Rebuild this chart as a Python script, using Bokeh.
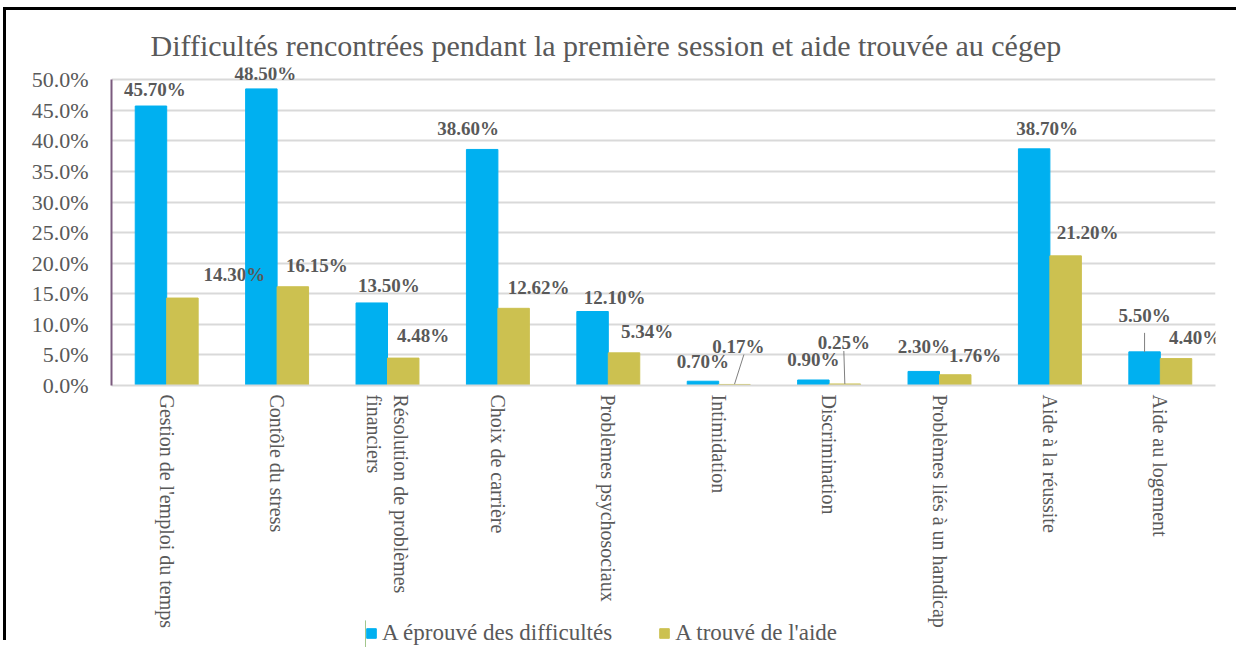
import math
from bokeh.plotting import figure
from bokeh.layouts import column
from bokeh.models import ColumnDataSource, Range1d, FixedTicker, PrintfTickFormatter, Legend, LegendItem
from bokeh.core.properties import value
from bokeh.embed import file_html
from bokeh.resources import INLINE

# ---- data ----
CATEGORIES = [
    "Gestion de l'emploi du temps",
    "Contôle du stress",
    "Résolution de problèmes\n          financiers",
    "Choix de carrière",
    "Problèmes psychosociaux",
    "Intimidation",
    "Discrimination",
    "Problèmes liés à un handicap",
    "Aide à la réussite",
    "Aide au logement",
]
DIFFICULTES = [45.70, 48.50, 13.50, 38.60, 12.10, 0.70, 0.90, 2.30, 38.70, 5.50]
AIDE = [14.30, 16.15, 4.48, 12.62, 5.34, 0.17, 0.25, 1.76, 21.20, 4.40]
DIFF_LABELS = ["45.70%", "48.50%", "13.50%", "38.60%", "12.10%", "0.70%", "0.90%", "2.30%", "38.70%", "5.50%"]
AIDE_LABELS = ["14.30%", "16.15%", "4.48%", "12.62%", "5.34%", "0.17%", "0.25%", "1.76%", "21.20%", "4.40%"]
SERIES = ["A éprouvé des difficultés", "A trouvé de l'aide"]
TITLE = "Difficultés rencontrées pendant la première session et aide trouvée au cégep"
Y_TICKS = [0, 5, 10, 15, 20, 25, 30, 35, 40, 45, 50]

# ---- label placement (screen pixels, style only) ----
DIFF_DX = [4, 4, 17, -14, 22, 0, 0, 0, 13, 0]
DIFF_DY = [17, 15, 17, 21, 14, 20, 20, 25, 20, 36]
AIDE_DX = [52, 24, 20, 25, 23, 4, -1, 20, 22, 19]
AIDE_DY = [24, 21, 23, 21, 21, 38, 41, 19, 23, 21]

BLUE = "#00B0F0"
GOLD = "#CCC150"
TXT = "#595959"
FONT = "Liberation Serif"
BW = 0.285
Y_MAX = 52

xs = [i + 0.5 for i in range(len(CATEGORIES))]
x_blue = [x - BW / 2 for x in xs]
x_gold = [x + BW / 2 for x in xs]

p = figure(width=1233, height=633, output_backend="svg", toolbar_location=None,
           x_range=Range1d(0, len(CATEGORIES)), y_range=Range1d(0, Y_MAX),
           min_border_left=105, min_border_right=24, min_border_top=57, min_border_bottom=258,
           background_fill_color="white", border_fill_color="white")
p.outline_line_color = None
p.styles = {"border-top": "3px solid black", "border-left": "3px solid black",
            "margin-top": "7px", "margin-left": "3px"}

p.title.text = TITLE
p.title.text_font = FONT
p.title.text_font_size = "30px"
p.title.text_font_style = "normal"
p.title.text_color = TXT
p.title.align = "left"
p.title.offset = 39
p.title.standoff = 12

r1 = p.vbar(x=x_blue, top=DIFFICULTES, width=BW, fill_color=BLUE, line_color=BLUE)
r2 = p.vbar(x=x_gold, top=AIDE, width=BW, fill_color=GOLD, line_color=GOLD)

# leader lines (label -> bar) for small labels
px_per_unit = 318 / Y_MAX
px_per_cat = 1104 / len(CATEGORIES)
for i in [5, 6]:
    y_top = AIDE[i] + (AIDE_DY[i] - 8) / px_per_unit
    x_lab = x_gold[i] + AIDE_DX[i] / px_per_cat + (0.05 if i == 5 else 0)
    p.segment(x0=[x_lab], y0=[y_top], x1=[x_gold[i]], y1=[AIDE[i]], line_color="#7f7f7f", line_width=1)
for i in [9]:
    y_top = DIFFICULTES[i] + (DIFF_DY[i] - 17) / px_per_unit
    p.segment(x0=[x_blue[i]], y0=[y_top], x1=[x_blue[i]], y1=[DIFFICULTES[i]], line_color="#7f7f7f", line_width=1)

src_d = ColumnDataSource(dict(x=x_blue, y=DIFFICULTES, t=DIFF_LABELS, dx=DIFF_DX, dy=[-d for d in DIFF_DY]))
src_a = ColumnDataSource(dict(x=x_gold, y=AIDE, t=AIDE_LABELS, dx=AIDE_DX, dy=[-d for d in AIDE_DY]))
for s in (src_d, src_a):
    p.text(x="x", y="y", text="t", x_offset="dx", y_offset="dy", source=s,
           text_font=value(FONT), text_font_size="19px", text_font_style="bold",
           text_color=TXT, text_align="center", text_baseline="middle")

# axes
p.yaxis.ticker = FixedTicker(ticks=Y_TICKS)
p.yaxis.formatter = PrintfTickFormatter(format="%.1f%%")
p.yaxis.bounds = (0, 50)
p.yaxis.major_label_text_font = FONT
p.yaxis.major_label_text_font_size = "22px"
p.yaxis.major_label_text_color = TXT
p.yaxis.major_tick_line_color = None
p.yaxis.minor_tick_line_color = None
p.yaxis.axis_line_color = "#7B5A7E"
p.yaxis.axis_line_width = 2
p.yaxis.major_label_standoff = 17

p.xaxis.ticker = FixedTicker(ticks=xs)
p.xaxis.major_label_overrides = {x: c for x, c in zip(xs, CATEGORIES)}
p.xaxis.major_label_orientation = -math.pi / 2
p.xaxis.major_label_text_font = FONT
p.xaxis.major_label_text_font_size = "20px"
p.xaxis.major_label_text_color = TXT
p.xaxis.major_tick_line_color = None
p.xaxis.minor_tick_line_color = None
p.xaxis.axis_line_color = "#D9D9D9"
p.xaxis.axis_line_width = 2
p.xaxis.major_label_standoff = 3

p.xgrid.grid_line_color = None
p.ygrid.ticker = FixedTicker(ticks=Y_TICKS)
p.ygrid.grid_line_color = "#D9D9D9"
p.ygrid.grid_line_width = 2

# legend: small transparent figure laid over the bottom of the chart
lg = figure(width=664, height=27, output_backend="svg", toolbar_location=None,
            x_axis_location=None, y_axis_location=None, min_border=0,
            x_range=Range1d(0, 1), y_range=Range1d(0, 1))
lg.outline_line_color = None
lg.background_fill_alpha = 0
lg.border_fill_alpha = 0
lg.grid.visible = False
lg.styles = {"position": "absolute", "left": "260px", "top": "620px"}
d1 = lg.vbar(x=[-10], top=[1], width=0.1, fill_color=BLUE, line_color=BLUE)
d2 = lg.vbar(x=[-10], top=[1], width=0.1, fill_color=GOLD, line_color=GOLD)
legend = Legend(items=[LegendItem(label=SERIES[0], renderers=[d1]),
                       LegendItem(label=SERIES[1], renderers=[d2])],
                orientation="horizontal", location="top_left",
                label_text_font=FONT, label_text_font_size="23px", label_text_color=TXT,
                glyph_width=12, glyph_height=12, spacing=46, padding=0, margin=0,
                label_standoff=5, label_height=20, border_line_color=None, background_fill_alpha=0)
lg.add_layout(legend, "center")

layout = column(p, lg)
open("out.html", "w").write(file_html(layout, INLINE))
